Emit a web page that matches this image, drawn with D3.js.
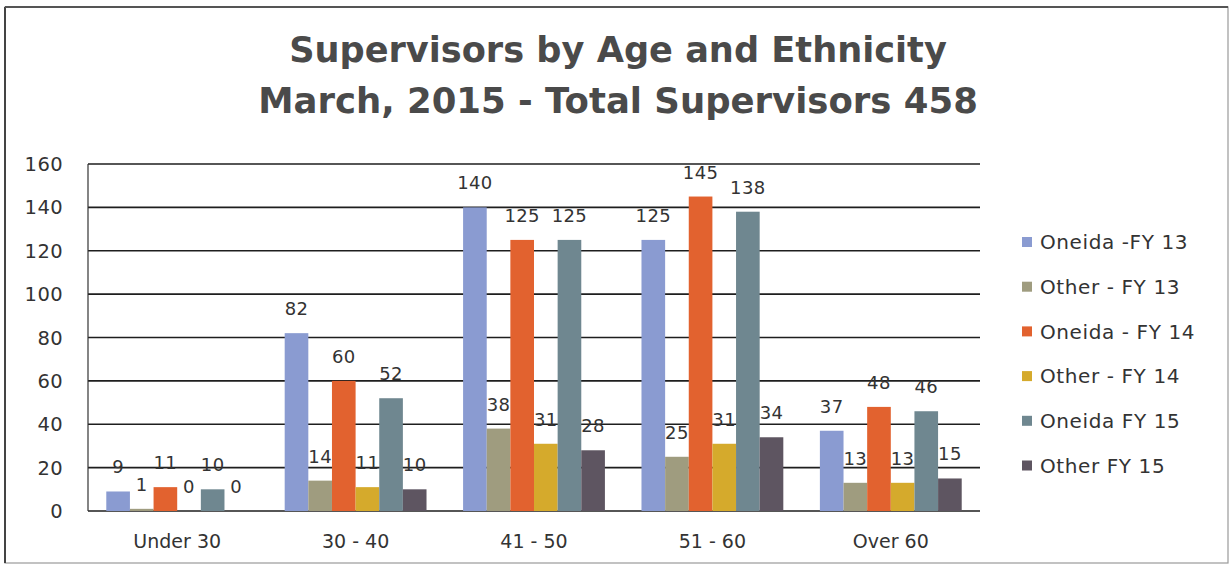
<!DOCTYPE html>
<html>
<head>
<meta charset="utf-8">
<script src="https://cdn.jsdelivr.net/npm/d3@7"></script>
<style>
  html, body { margin: 0; padding: 0; background: #fff; }
  svg { display: block; }
</style>
</head>
<body>
<svg id="chart" width="1231" height="570"></svg>
<script>
// ---- data ----
const categories = ["Under 30", "30 - 40", "41 - 50", "51 - 60", "Over 60"];
const seriesNames = ["Oneida -FY 13", "Other - FY 13", "Oneida - FY 14", "Other - FY 14", "Oneida FY 15", "Other FY 15"];
const oneidaFY13 = [9, 82, 140, 125, 37];
const otherFY13  = [1, 14, 38, 25, 13];
const oneidaFY14 = [11, 60, 125, 145, 48];
const otherFY14  = [0, 11, 31, 31, 13];
const oneidaFY15 = [10, 52, 125, 138, 46];
const otherFY15  = [0, 10, 28, 34, 15];
const yTicks = [0, 20, 40, 60, 80, 100, 120, 140, 160];
const titleLines = ["Supervisors by Age and Ethnicity", "March, 2015 - Total Supervisors 458"];

const seriesValues = [oneidaFY13, otherFY13, oneidaFY14, otherFY14, oneidaFY15, otherFY15];
const colors = ["#8a9bd1", "#9f9c7f", "#e2622f", "#d5aa2c", "#6f8790", "#5e5561"];

const svg = d3.select("#chart");
const font = "'DejaVu Sans', sans-serif";

// outer frame
svg.append("rect").attr("x", 5).attr("y", 7).attr("width", 1223).attr("height", 556)
  .attr("fill", "none").attr("stroke", "#9a9a9a").attr("stroke-width", 1.2);
svg.append("line").attr("x1", 5).attr("x2", 5).attr("y1", 7).attr("y2", 563)
  .attr("stroke", "#444").attr("stroke-width", 2);
svg.append("line").attr("x1", 5).attr("x2", 1228).attr("y1", 7).attr("y2", 7)
  .attr("stroke", "#555").attr("stroke-width", 1.8);

// title
const titleTargets = [{w: 658, y: 62}, {w: 720, y: 113}];
titleLines.forEach((t, i) => {
  const txt = svg.append("text").attr("x", 618).attr("y", titleTargets[i].y)
    .attr("text-anchor", "middle").attr("font-family", font).attr("font-weight", "bold")
    .attr("font-size", 34).attr("fill", "#4a4a4a").text(t);
  const w = txt.node().getComputedTextLength();
  txt.attr("font-size", 34 * titleTargets[i].w / w);
});

const margin = {left: 88, right: 980, top: 164, bottom: 511};
const x0 = d3.scaleBand().domain(categories).range([margin.left, margin.right]).paddingInner(0.205).paddingOuter(0.1025);
const x1 = d3.scaleBand().domain(d3.range(seriesNames.length)).range([0, x0.bandwidth()]);
const y = d3.scaleLinear().domain([0, 160]).range([margin.bottom, margin.top]);

// gridlines
svg.append("g").selectAll("line").data(yTicks).join("line")
  .attr("x1", margin.left).attr("x2", margin.right)
  .attr("y1", d => y(d)).attr("y2", d => y(d))
  .attr("stroke", "#1e1e1e").attr("stroke-width", 1.6);

// left axis line
svg.append("line").attr("x1", margin.left).attr("x2", margin.left)
  .attr("y1", y(160)).attr("y2", y(0)).attr("stroke", "#333").attr("stroke-width", 1.2);

// y tick labels
svg.append("g").selectAll("text").data(yTicks).join("text")
  .attr("x", 63).attr("y", d => y(d)).attr("dy", "0.36em")
  .attr("text-anchor", "end").attr("font-family", font).attr("font-size", 19.5)
  .attr("letter-spacing", 0.4)
  .attr("fill", "#333").text(d => d);

// bars
const groups = svg.append("g").selectAll("g").data(categories).join("g")
  .attr("transform", d => `translate(${x0(d)},0)`);

groups.selectAll("rect").data((d, ci) => seriesValues.map((vals, si) => ({si, v: vals[ci]})))
  .join("rect")
  .attr("x", d => x1(d.si)).attr("width", x1.bandwidth())
  .attr("y", d => y(d.v)).attr("height", d => y(0) - y(d.v))
  .attr("fill", d => colors[d.si]);

// value labels
groups.selectAll("text").data((d, ci) => seriesValues.map((vals, si) => ({si, v: vals[ci]})))
  .join("text")
  .attr("x", d => x1(d.si) + x1.bandwidth() / 2).attr("y", d => y(d.v) - 18)
  .attr("text-anchor", "middle").attr("font-family", font).attr("font-size", 18)
  .attr("letter-spacing", 0.4)
  .attr("fill", "#333").text(d => d.v);

// x category labels
svg.append("g").selectAll("text").data(categories).join("text")
  .attr("x", d => x0(d) + x0.bandwidth() / 2).attr("y", 548)
  .attr("text-anchor", "middle").attr("font-family", font).attr("font-size", 19)
  .attr("fill", "#333").text(d => d);

// legend
const legend = svg.append("g").selectAll("g").data(seriesNames).join("g")
  .attr("transform", (d, i) => `translate(1022, ${242 + i * 44.7})`);
legend.append("rect").attr("x", 0).attr("y", -5).attr("width", 10).attr("height", 10)
  .attr("fill", (d, i) => colors[i]);
legend.append("text").attr("x", 18).attr("y", 0).attr("dy", "0.36em")
  .attr("font-family", font).attr("font-size", 20).attr("letter-spacing", 0.6)
  .attr("fill", "#333").text(d => d);
</script>
</body>
</html>
